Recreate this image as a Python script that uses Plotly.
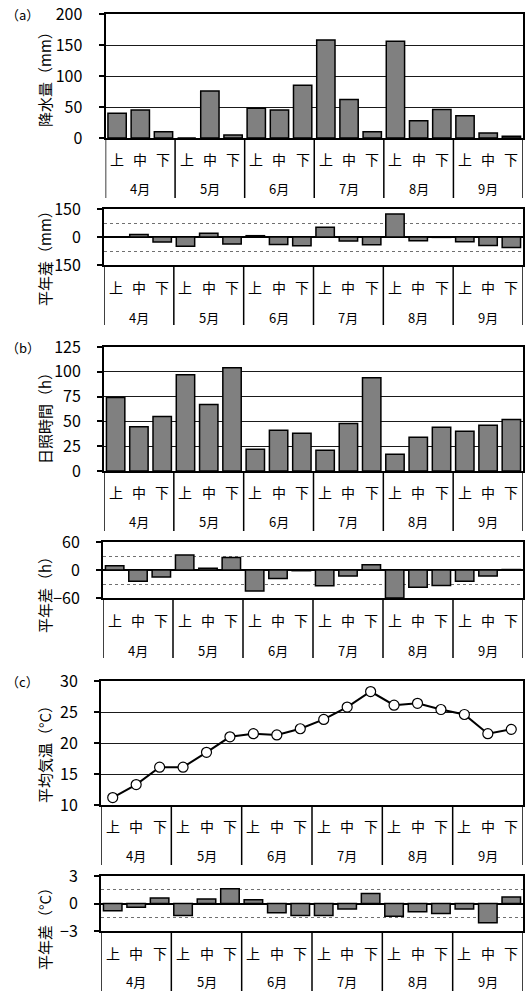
import plotly.graph_objects as go

# ---- data -------------------------------------------------------------
months = ["4月", "5月", "6月", "7月", "8月", "9月"]
dekads = ["上", "中", "下"]
categories = [m + d for m in months for d in dekads]

precip = [40, 45, 10, 0, 76, 5, 48, 45, 85, 158, 62, 10, 156, 28, 46, 36, 8, 3]
precip_anom = [1, 13, -27, -49, 20, -38, 7, -40, -47, 52, -22, -42, 123, -20, -2, -25, -45, -56]
sunshine = [74, 44.5, 55, 97, 67, 104, 22, 41, 38, 21, 48, 94, 17, 34, 44, 40, 46, 52]
sunshine_anom = [9, -24, -15, 32, 4, 27, -45, -18, -1.5, -34, -13, 11.5, -60, -37, -33, -24, -13, 1]
temp = [11.2, 13.3, 16.1, 16.1, 18.5, 21.0, 21.5, 21.3, 22.3, 23.8, 25.8, 28.3, 26.1, 26.4, 25.4, 24.6, 21.5, 22.2]
temp_anom = [-0.8, -0.4, 0.6, -1.3, 0.5, 1.6, 0.4, -1.0, -1.3, -1.3, -0.6, 1.1, -1.4, -0.9, -1.1, -0.6, -2.1, 0.7]

# ---- layout helpers ---------------------------------------------------
W, H = 526, 992
FONT = "Noto Sans CJK JP"


def px_x(v):
    return v / W


def px_y(v):
    return 1 - v / H


panels = [
    dict(y=precip, kind="bar", top=14, bot=138, left=105.5, rng=[0, 200], dtick=50, minor=None,
         title="降水量（mm）", tcy=76, label="（a）", inner=21, outer=50),
    dict(y=precip_anom, kind="bar", top=209, bot=265, left=104, rng=[-150, 150], dtick=150, minor=75,
         title="平年差（mm）", tcy=255, label=None, inner=22, outer=53),
    dict(y=sunshine, kind="bar", top=347, bot=471, left=104, rng=[0, 125], dtick=25, minor=None,
         title="日照時間（h）", tcy=415, label="（b）", inner=21, outer=50),
    dict(y=sunshine_anom, kind="bar", top=542, bot=598, left=103, rng=[-60, 60], dtick=60, minor=30,
         title="平年差（h）", tcy=591, label=None, inner=22, outer=53),
    dict(y=temp, kind="line", top=681, bot=805, left=101, rng=[10, 30], dtick=5, minor=None,
         title="平均気温（°C）", tcy=751, label="（c）", inner=21, outer=50),
    dict(y=temp_anom, kind="bar", top=876, bot=931, left=101, rng=[-3, 3], dtick=3, minor=1.5,
         title="平年差（°C）", tcy=925, label=None, inner=22, outer=50),
]

RIGHT = 523
fig = go.Figure()
shapes, annotations = [], []
layout = {}

for i, p in enumerate(panels, start=1):
    xa = "x" if i == 1 else f"x{i}"
    ya = "y" if i == 1 else f"y{i}"
    xkey = "xaxis" if i == 1 else f"xaxis{i}"
    ykey = "yaxis" if i == 1 else f"yaxis{i}"
    h_px = p["bot"] - p["top"]

    if p["kind"] == "bar":
        fig.add_trace(go.Bar(
            x=categories, y=p["y"], xaxis=xa, yaxis=ya,
            marker=dict(color="#808080", line=dict(color="black", width=1.5)),
            showlegend=False,
        ))
    else:
        fig.add_trace(go.Scatter(
            x=categories, y=p["y"], xaxis=xa, yaxis=ya, mode="lines+markers",
            line=dict(color="black", width=2),
            marker=dict(symbol="circle", size=10, color="white",
                        line=dict(color="black", width=1.2)),
            showlegend=False,
        ))

    layout[xkey] = dict(
        domain=[px_x(p["left"]), px_x(RIGHT)], anchor=ya, automargin=False,
        type="category", categoryorder="array", categoryarray=categories,
        range=[-0.5, len(categories) - 0.5],
        showticklabels=False, ticks="", showgrid=False,
        showline=True, linecolor="black", linewidth=1.5, mirror=True,
        zeroline=False, fixedrange=True,
    )
    yax = dict(
        domain=[px_y(p["bot"]), px_y(p["top"])], anchor=xa, automargin=False,
        range=p["rng"], dtick=p["dtick"], tick0=0,
        showline=True, linecolor="black", linewidth=2, mirror=True,
        ticks="outside", ticklen=5, tickwidth=1.5, tickcolor="black",
        ticklabelstandoff=13,
        tickfont=dict(family=FONT, size=16, color="black"),
        showgrid=True, gridcolor="#1a1a1a", gridwidth=1,
        zeroline=False, fixedrange=True,
    )
    if p["minor"] is not None:
        yax.update(
            showgrid=False,
            zeroline=True, zerolinecolor="black", zerolinewidth=1.5,
            minor=dict(dtick=p["minor"], tick0=0, showgrid=True,
                       gridcolor="#707070", griddash="dot", gridwidth=1, ticks=""),
        )
    layout[ykey] = yax

    # month dividers and category labels below each panel
    depth = 60
    ydom = f"{ya} domain"
    for k in range(len(months) + 1):
        xv = -0.5 + 3 * k
        shapes.append(dict(type="line", xref=xa, yref=ydom, x0=xv, x1=xv,
                           y0=0, y1=-depth / h_px,
                           line=dict(color="black", width=1.5)))
    for j, c in enumerate(categories):
        annotations.append(dict(x=j, y=-p["inner"] / h_px, xref=xa, yref=ydom,
                                text=c[-1], showarrow=False, yanchor="middle",
                                font=dict(family=FONT, size=14, color="black")))
    for m_i, m in enumerate(months):
        annotations.append(dict(x=3 * m_i + 1, y=-p["outer"] / h_px, xref=xa, yref=ydom,
                                text=m, showarrow=False, yanchor="middle",
                                font=dict(family=FONT, size=13, color="black")))

    # y-axis title
    annotations.append(dict(x=px_x(44), y=px_y(p["tcy"]), xref="paper", yref="paper",
                            text=p["title"], textangle=-90, showarrow=False,
                            xanchor="center", yanchor="middle",
                            font=dict(family=FONT, size=15, color="black")))
    if p["label"]:
        annotations.append(dict(x=px_x(4), y=px_y(p["top"]), xref="paper", yref="paper",
                                text=p["label"], showarrow=False,
                                xanchor="left", yanchor="middle",
                                font=dict(family=FONT, size=13, color="black")))

fig.update_layout(
    width=W, height=H, autosize=False,
    margin=dict(l=0, r=0, t=0, b=0, pad=0),
    paper_bgcolor="white", plot_bgcolor="white",
    bargap=0.21, showlegend=False,
    shapes=shapes, annotations=annotations,
    font=dict(family=FONT, color="black"),
    **layout,
)

fig.write_html("out.html")
